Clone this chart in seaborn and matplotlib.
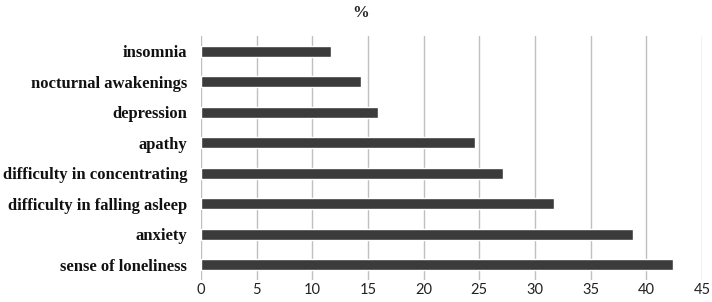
import matplotlib
matplotlib.use("Agg")
import matplotlib.pyplot as plt
import seaborn as sns
import pandas as pd

categories = ["insomnia", "nocturnal awakenings", "depression", "apathy",
              "difficulty in concentrating", "difficulty in falling asleep",
              "anxiety", "sense of loneliness"]
values = [11.7, 14.4, 15.9, 24.6, 27.1, 31.7, 38.8, 42.4]
xticks = [0, 5, 10, 15, 20, 25, 30, 35, 40, 45]

df = pd.DataFrame({"symptom": categories, "pct": values})

sns.set_theme(style="white")
fig = plt.figure(figsize=(7.12, 3.02), dpi=100)
ax = fig.add_axes([201/712, 22/302, 501/712, 244/302])

sns.barplot(data=df, y="symptom", x="pct", order=categories, color="#3b3b3b",
            width=0.36, ax=ax, saturation=1)

ax.set_xlim(0, 45)
ax.set_ylim(7.5, -0.5)
ax.set_xticks(xticks)
ax.set_xticklabels([str(t) for t in xticks], fontsize=10.5, family="Lato", color="#222222")
ax.set_yticks(range(len(categories)))
ax.set_yticklabels(categories, fontsize=12, family="Liberation Serif", fontweight="bold",
                   color="#111111")
ax.tick_params(axis="y", length=0, pad=10)
ax.tick_params(axis="x", length=0, pad=2)
ax.set_xlabel("")
ax.set_ylabel("")
ax.xaxis.grid(True, color="#bfbfbf", linewidth=1)
ax.yaxis.grid(False)
ax.set_axisbelow(True)
for s in ax.spines.values():
    s.set_visible(False)

fig.text(361/712, 1 - 13/302, "%", ha="center", va="center", fontsize=12,
         family="Liberation Serif", fontweight="bold")

fig.savefig("out.png", dpi=100, facecolor="white")
